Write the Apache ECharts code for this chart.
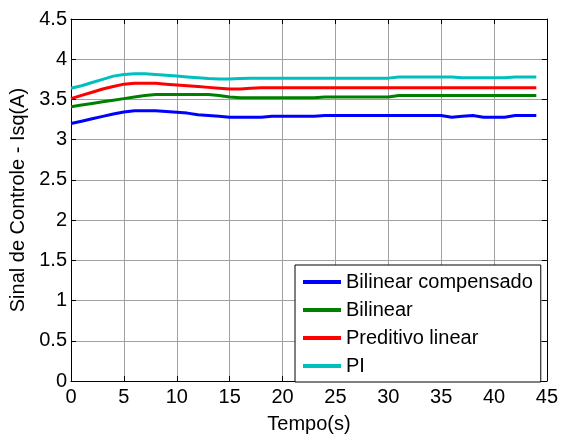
<!DOCTYPE html>
<html>
<head>
<meta charset="utf-8">
<script src="https://cdn.jsdelivr.net/npm/echarts@6/dist/echarts.min.js"></script>
<style>
  html, body { margin: 0; padding: 0; background: #fff; }
  #chart { width: 561px; height: 439px; }
</style>
</head>
<body>
<div id="chart"></div>
<script>
// time axis (s), one sample per second
var tempo = [0,1,2,3,4,5,6,7,8,9,10,11,12,13,14,15,16,17,18,19,20,21,22,23,24,25,26,27,28,29,30,31,32,33,34,35,36,37,38,39,40,41,42,43,44]

// Isq (A)
var bilinearComp = [3.20,3.23,3.26,3.29,3.32,3.345,3.36,3.36,3.36,3.35,3.34,3.33,3.31,3.30,3.29,3.28,3.28,3.28,3.28,3.29,3.29,3.29,3.29,3.29,3.30,3.30,3.30,3.30,3.30,3.30,3.30,3.30,3.30,3.30,3.30,3.30,3.28,3.29,3.30,3.28,3.28,3.28,3.30,3.30,3.30]
var bilinear = [3.41,3.43,3.45,3.47,3.49,3.51,3.53,3.55,3.56,3.56,3.56,3.56,3.56,3.56,3.55,3.53,3.52,3.52,3.52,3.52,3.52,3.52,3.52,3.52,3.53,3.53,3.53,3.53,3.53,3.53,3.53,3.55,3.55,3.55,3.55,3.55,3.55,3.55,3.55,3.55,3.55,3.55,3.55,3.55,3.55]
var preditivo = [3.51,3.55,3.59,3.63,3.66,3.69,3.70,3.70,3.70,3.69,3.68,3.67,3.66,3.65,3.64,3.63,3.63,3.64,3.645,3.645,3.645,3.645,3.645,3.645,3.645,3.645,3.645,3.645,3.645,3.645,3.645,3.645,3.645,3.645,3.645,3.645,3.645,3.645,3.645,3.645,3.645,3.645,3.645,3.645,3.645]
var pi = [3.64,3.67,3.71,3.75,3.79,3.81,3.82,3.82,3.81,3.80,3.79,3.78,3.77,3.76,3.755,3.755,3.76,3.765,3.765,3.765,3.765,3.765,3.765,3.765,3.765,3.765,3.765,3.765,3.765,3.765,3.765,3.78,3.78,3.78,3.78,3.78,3.78,3.77,3.77,3.77,3.77,3.77,3.78,3.78,3.78]

var nomes = ['Bilinear compensado', 'Bilinear', 'Preditivo linear', 'PI']
var cores = ['#0000FF', '#008000', '#FF0000', '#00BFBF']
var valores = [bilinearComp, bilinear, preditivo, pi]

var fonte = 'Liberation Sans, Arial, sans-serif'

// pair time with values for a value x axis
function pares(ys) {
  return tempo.map(function (t, i) { return [t, ys[i]] })
}

var eixoX = {
  type: 'value', min: 0, max: 45, interval: 5,
  axisLine: { show: true, onZero: false, lineStyle: { color: '#000', width: 1 } },
  axisTick: { show: true, inside: true, length: 5, lineStyle: { color: '#000' } }
}
var eixoY = {
  type: 'value', min: 0, max: 4.5, interval: 0.5,
  axisLine: { show: true, onZero: false, lineStyle: { color: '#000', width: 1 } },
  axisTick: { show: true, inside: true, length: 5, lineStyle: { color: '#000' } }
}

var option = {
  backgroundColor: '#fff',
  animation: false,
  grid: { left: 71, right: 13, top: 19, bottom: 53 },
  legend: {
    orient: 'vertical',
    left: 295, top: 265,
    data: nomes,
    icon: 'rect',
    itemWidth: 38, itemHeight: 4,
    itemGap: 8,
    padding: [7, 8, 6, 8],
    backgroundColor: '#fff',
    borderColor: '#000', borderWidth: 1, borderRadius: 0,
    textStyle: { fontFamily: fonte, fontSize: 20, color: '#000', lineHeight: 19 }
  },
  xAxis: [
    Object.assign({}, eixoX, {
      position: 'bottom',
      name: 'Tempo(s)', nameLocation: 'middle', nameGap: 33,
      nameTextStyle: { fontFamily: fonte, fontSize: 20, color: '#000' },
      axisLabel: { fontFamily: fonte, fontSize: 20, color: '#000', margin: 6 },
      splitLine: { show: true, lineStyle: { color: '#a0a0a0', width: 1 } }
    }),
    Object.assign({}, eixoX, {
      position: 'top', axisLabel: { show: false }, splitLine: { show: false }
    })
  ],
  yAxis: [
    Object.assign({}, eixoY, {
      position: 'left',
      name: 'Sinal de Controle - Isq(A)', nameLocation: 'middle', nameGap: 42,
      nameTextStyle: { fontFamily: fonte, fontSize: 20, color: '#000' },
      axisLabel: { fontFamily: fonte, fontSize: 20, color: '#000', margin: 4 },
      splitLine: { show: true, lineStyle: { color: '#a0a0a0', width: 1 } }
    }),
    Object.assign({}, eixoY, {
      position: 'right', axisLabel: { show: false }, splitLine: { show: false }
    })
  ],
  series: valores.map(function (ys, i) {
    return {
      name: nomes[i],
      type: 'line',
      data: pares(ys),
      showSymbol: false,
      symbol: 'none',
      itemStyle: { color: cores[i] },
      lineStyle: { color: cores[i], width: 3 }
    }
  })
}

echarts.init(document.getElementById('chart')).setOption(option)
</script>
</body>
</html>
